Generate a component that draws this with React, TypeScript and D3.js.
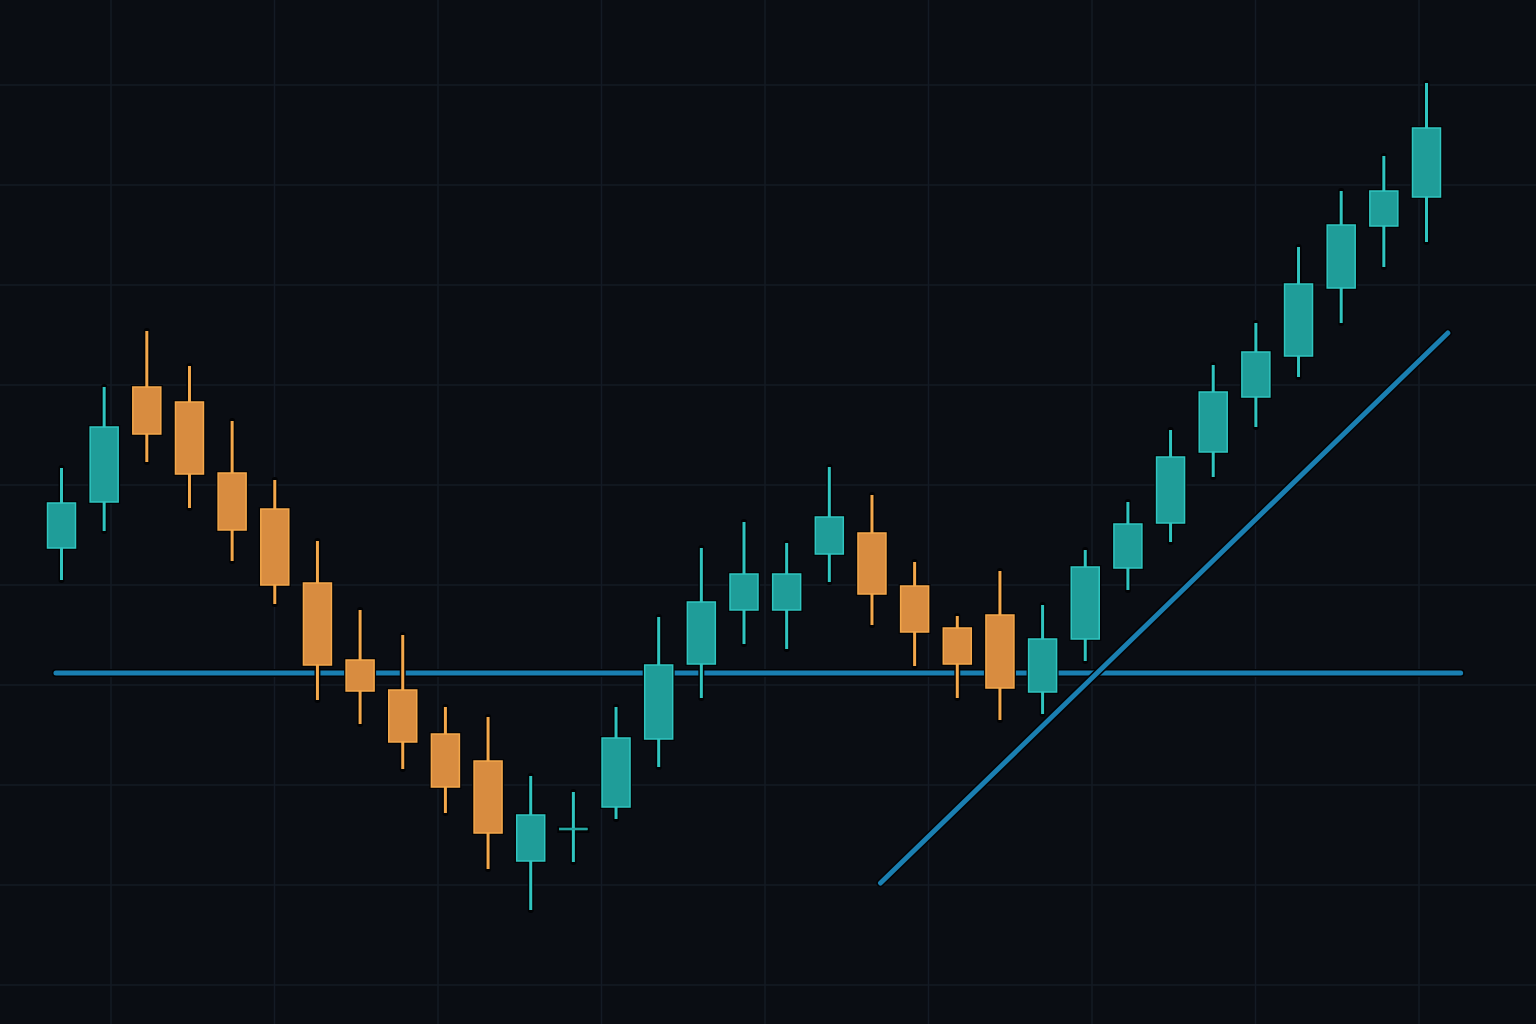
import React, { useEffect, useRef } from 'react';
import * as d3 from 'd3';

// candle values (price units, one row per session)
const opens = [
  143.7, 148.3, 159.8, 158.3, 151.2, 147.6, 140.2, 132.5, 129.5, 125.1, 122.4,
  112.4, 115.6, 117.8, 124.6, 132.1, 137.5, 137.5, 143.1, 145.2, 139.9, 135.7,
  137.0, 129.3, 134.6, 141.7, 146.2, 153.3, 158.8, 162.9, 169.7, 175.9, 178.8,
];
const closes = [
  148.2, 155.8, 155.1, 151.1, 145.5, 140.0, 132.0, 129.4, 124.3, 119.8, 115.2,
  117.0, 115.7, 124.7, 132.0, 138.3, 141.1, 141.1, 146.8, 139.1, 135.3, 132.1,
  129.7, 134.6, 141.8, 146.1, 152.8, 159.3, 163.3, 170.1, 176.0, 179.4, 185.7,
];
const highs = [
  151.7, 159.8, 165.4, 161.9, 156.4, 150.5, 144.4, 137.5, 135.0, 127.8, 126.8,
  120.9, 119.3, 127.8, 136.8, 143.7, 146.3, 144.2, 151.8, 149.0, 142.3, 136.9,
  141.4, 138.0, 143.5, 148.3, 155.5, 162.0, 166.2, 173.8, 179.4, 182.9, 190.2,
];
const lows = [
  140.5, 145.4, 152.3, 147.7, 142.4, 138.1, 128.5, 126.1, 121.6, 117.2, 111.6,
  107.5, 112.3, 116.6, 121.8, 128.7, 134.1, 133.6, 140.3, 136.0, 131.9, 128.7,
  126.5, 127.1, 132.4, 139.5, 144.3, 150.8, 155.8, 160.8, 166.2, 171.8, 174.3,
];

// horizontal support level and the rising trend line (index, price)
const supportLevel = 131.2;
const supportSpan = [-0.13, 32.8];
const trendStart = [19.2, 110.2];
const trendEnd = [32.5, 165.2];

// price levels used for the horizontal grid
const priceLevels = [100, 110, 120, 130, 140, 150, 160, 170, 180, 190];

const W = 1536;
const H = 1024;

const BG = '#0a0d13';
const GRID = '#141b25';
const UP_FILL = '#1f9d99';
const UP_EDGE = '#30c5c0';
const DOWN_FILL = '#d88c40';
const DOWN_EDGE = '#f4a84b';
const LINE = '#1a7fb1';
const HALO = '#020305';

const App = () => {
  const ref = useRef<SVGSVGElement>(null);

  useEffect(() => {
    document.body.style.margin = '0';
    const svg = d3.select(ref.current);
    svg.selectAll('*').remove();

    const x = d3.scaleLinear().domain([0, opens.length - 1]).range([61.5, 1426.5]);
    const y = d3.scaleLinear().domain([100, 190]).range([985, 85]);
    const bodyW = 28;

    svg.append('rect').attr('width', W).attr('height', H).attr('fill', BG);

    // grid
    const grid = svg.append('g').attr('stroke', GRID).attr('stroke-width', 1.5);
    grid.selectAll('line.h')
      .data(priceLevels)
      .enter().append('line')
      .attr('class', 'h')
      .attr('x1', 0).attr('x2', W)
      .attr('y1', d => y(d)).attr('y2', d => y(d));
    grid.selectAll('line.v')
      .data(d3.range(111, W, 163.5))
      .enter().append('line')
      .attr('class', 'v')
      .attr('y1', 0).attr('y2', H)
      .attr('x1', d => d).attr('x2', d => d);

    const candles = opens.map((o, i) => ({
      i, o, c: closes[i], h: highs[i], l: lows[i], up: closes[i] >= o,
    }));

    const drawLine = (g: d3.Selection<SVGGElement, unknown, null, undefined>, x1: number, y1: number, x2: number, y2: number) => {
      g.append('line')
        .attr('x1', x1).attr('y1', y1).attr('x2', x2).attr('y2', y2)
        .attr('stroke', HALO).attr('stroke-width', 8).attr('stroke-linecap', 'round');
      g.append('line')
        .attr('x1', x1).attr('y1', y1).attr('x2', x2).attr('y2', y2)
        .attr('stroke', LINE).attr('stroke-width', 5).attr('stroke-linecap', 'round');
    };

    // support line sits behind the candles
    const lines = svg.append('g');
    drawLine(lines, x(supportSpan[0]), y(supportLevel), x(supportSpan[1]), y(supportLevel));

    const cg = svg.append('g')
      .selectAll('g')
      .data(candles)
      .enter().append('g');

    // dark halo first
    cg.append('line')
      .attr('x1', d => x(d.i)).attr('x2', d => x(d.i))
      .attr('y1', d => y(d.h)).attr('y2', d => y(d.l))
      .attr('stroke', HALO).attr('stroke-width', 6).attr('stroke-linecap', 'round');
    cg.append('rect')
      .attr('x', d => x(d.i) - bodyW / 2 - 2)
      .attr('y', d => y(Math.max(d.o, d.c)) - 2)
      .attr('width', bodyW + 4)
      .attr('height', d => Math.max(3, Math.abs(y(d.o) - y(d.c))) + 4)
      .attr('fill', HALO);

    // wick
    cg.append('line')
      .attr('x1', d => x(d.i)).attr('x2', d => x(d.i))
      .attr('y1', d => y(d.h)).attr('y2', d => y(d.l))
      .attr('stroke', d => (d.up ? UP_EDGE : DOWN_EDGE))
      .attr('stroke-width', 3);

    // body
    cg.append('rect')
      .attr('x', d => x(d.i) - bodyW / 2)
      .attr('y', d => y(Math.max(d.o, d.c)))
      .attr('width', bodyW)
      .attr('height', d => Math.max(2, Math.abs(y(d.o) - y(d.c))))
      .attr('fill', d => (d.up ? UP_FILL : DOWN_FILL))
      .attr('stroke', d => (d.up ? UP_EDGE : DOWN_EDGE))
      .attr('stroke-width', d => (Math.abs(y(d.o) - y(d.c)) < 3 ? 0.5 : 1.5));

    // trend line over the candles
    const top = svg.append('g');
    drawLine(top, x(trendStart[0]), y(trendStart[1]), x(trendEnd[0]), y(trendEnd[1]));
  }, []);

  return (
    <div style={{ position: 'absolute', left: 0, top: 0 }}>
      <svg ref={ref} width={W} height={H} style={{ display: 'block' }} />
    </div>
  );
};

export default App;
